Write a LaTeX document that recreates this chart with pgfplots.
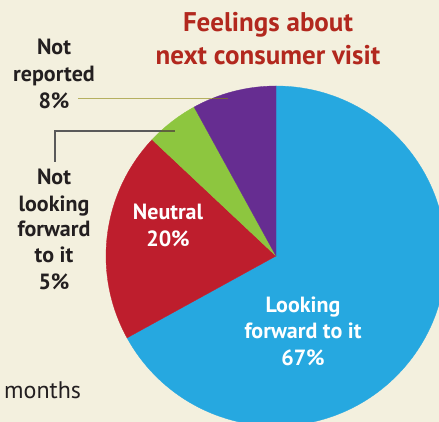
\documentclass[border=0pt]{standalone}
\usepackage{fontspec}
\setmainfont{PT Sans}
\usepackage{pgfplots}
\usepackage{pgfplotstable}
\pgfplotsset{compat=1.18}
\definecolor{bg}{RGB}{243,240,222}
\definecolor{cLook}{RGB}{38,168,224}
\definecolor{cNeut}{RGB}{190,30,45}
\definecolor{cNotL}{RGB}{141,198,63}
\definecolor{cNotR}{RGB}{102,45,145}
\definecolor{ttl}{RGB}{178,40,30}
\definecolor{txt}{RGB}{35,31,32}
\definecolor{lead1}{RGB}{181,176,96}
\definecolor{lead1d}{RGB}{120,100,60}
\definecolor{lead2}{RGB}{90,90,90}
\definecolor{lead2d}{RGB}{95,100,60}
\pgfplotstableread{
share col
67 cLook
20 cNeut
5 cNotL
8 cNotR
}\piedata
\begin{document}
\begin{tikzpicture}
\fill[bg] (0,0) rectangle (439pt,422pt);
\useasboundingbox (0,0) rectangle (439pt,422pt);
\begin{axis}[x=1pt, y=1pt, xmin=0, xmax=439, ymin=0, ymax=422,
  scale only axis, hide axis, clip=true, disabledatascaling,
  at={(0,0)}, anchor=south west]
\def\startang{90}
\pgfplotsforeachungrouped \i in {0,...,3}{%
  \pgfplotstablegetelem{\i}{share}\of\piedata \let\share\pgfplotsretval
  \pgfplotstablegetelem{\i}{col}\of\piedata \let\col\pgfplotsretval
  \pgfmathsetmacro\endang{\startang-3.6*\share}%
  \edef\cmd{\noexpand\fill[\col, draw=\col, line width=0.3pt] (axis cs:276,166) -- ++(\startang:170pt) arc[start angle=\startang, end angle=\endang, radius=170pt] -- cycle;}%
  \cmd
  \global\let\startang\endang
}
% leader lines
\draw[lead1, line width=1.2pt] (axis cs:78,323.5) -- (axis cs:212,323.5);
\draw[lead1d, line width=1.2pt] (axis cs:212,323.5) -- (axis cs:228,323.5);
\draw[lead2, line width=1.2pt] (axis cs:55,260) -- (axis cs:55,291) -- (axis cs:161,291);
\draw[lead2d, line width=1.2pt] (axis cs:161,291) -- (axis cs:175,291);
% title
\node[anchor=base, ttl, font=\fontsize{27}{27}\selectfont\bfseries] at (axis cs:268,390) {Feelings about};
\node[anchor=base, ttl, font=\fontsize{27}{27}\selectfont\bfseries] at (axis cs:268,357) {next consumer visit};
% not reported
\node[anchor=base, txt, font=\fontsize{22}{22}\selectfont\bfseries] at (axis cs:54,367) {Not};
\node[anchor=base, txt, font=\fontsize{22}{22}\selectfont\bfseries] at (axis cs:54,340) {reported};
\node[anchor=base, txt, font=\fontsize{22}{22}\selectfont\bfseries] at (axis cs:54,313) {8\%};
% not looking
\node[anchor=base, txt, font=\fontsize{22}{22}\selectfont\bfseries] at (axis cs:54,237) {Not};
\node[anchor=base, txt, font=\fontsize{22}{22}\selectfont\bfseries] at (axis cs:54,210) {looking};
\node[anchor=base, txt, font=\fontsize{22}{22}\selectfont\bfseries] at (axis cs:54,185) {forward};
\node[anchor=base, txt, font=\fontsize{22}{22}\selectfont\bfseries] at (axis cs:54,159) {to it};
\node[anchor=base, txt, font=\fontsize{22}{22}\selectfont\bfseries] at (axis cs:54,132) {5\%};
% neutral
\node[anchor=base, white, font=\fontsize{22}{22}\selectfont\bfseries] at (axis cs:168,202) {Neutral};
\node[anchor=base, white, font=\fontsize{22}{22}\selectfont\bfseries] at (axis cs:168,175) {20\%};
% looking forward
\node[anchor=base, white, font=\fontsize{22}{22}\selectfont\bfseries] at (axis cs:303,109) {Looking};
\node[anchor=base, white, font=\fontsize{22}{22}\selectfont\bfseries] at (axis cs:303,83) {forward to it};
\node[anchor=base, white, font=\fontsize{22}{22}\selectfont\bfseries] at (axis cs:303,56) {67\%};
% months
\node[anchor=base west, inner sep=0pt, txt, font=\fontsize{24}{24}\selectfont] at (axis cs:4,23) {months};
\end{axis}
\end{tikzpicture}
\end{document}
